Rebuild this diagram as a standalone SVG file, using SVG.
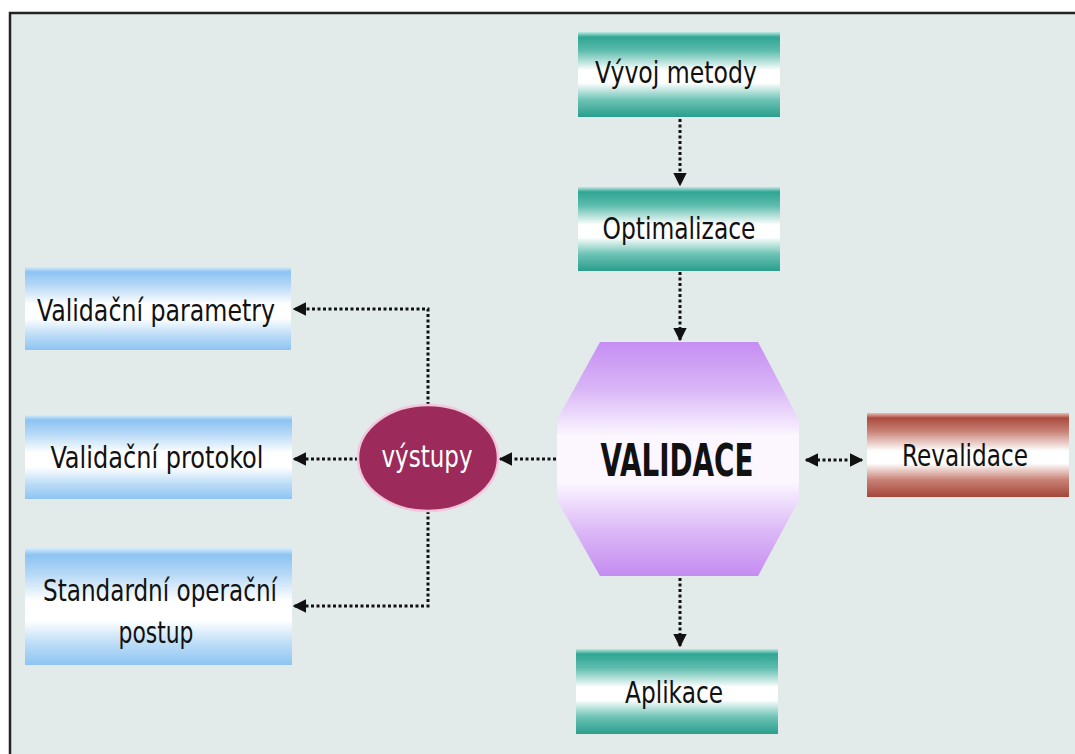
<svg xmlns="http://www.w3.org/2000/svg" width="1075" height="754" viewBox="0 0 1075 754">
  <defs>
    <linearGradient id="gTeal" x1="0" y1="0" x2="0" y2="1">
      <stop offset="0" stop-color="#bfe9e2"/>
      <stop offset="0.06" stop-color="#2fa593"/>
      <stop offset="0.22" stop-color="#5dbcad"/>
      <stop offset="0.45" stop-color="#ffffff"/>
      <stop offset="0.6" stop-color="#ffffff"/>
      <stop offset="0.8" stop-color="#6cc3b5"/>
      <stop offset="1" stop-color="#2a9d8c"/>
    </linearGradient>
    <linearGradient id="gBlue" x1="0" y1="0" x2="0" y2="1">
      <stop offset="0" stop-color="#d6ecfb"/>
      <stop offset="0.06" stop-color="#8cc3f2"/>
      <stop offset="0.22" stop-color="#b5d8f6"/>
      <stop offset="0.45" stop-color="#ffffff"/>
      <stop offset="0.62" stop-color="#ffffff"/>
      <stop offset="0.82" stop-color="#bcdcf7"/>
      <stop offset="1" stop-color="#8ec4f2"/>
    </linearGradient>
    <linearGradient id="gBrown" x1="0" y1="0" x2="0" y2="1">
      <stop offset="0" stop-color="#e8c0b4"/>
      <stop offset="0.06" stop-color="#a94b3e"/>
      <stop offset="0.22" stop-color="#c98276"/>
      <stop offset="0.45" stop-color="#ffffff"/>
      <stop offset="0.6" stop-color="#ffffff"/>
      <stop offset="0.8" stop-color="#c88074"/>
      <stop offset="1" stop-color="#a4463a"/>
    </linearGradient>
    <linearGradient id="gViolet" x1="0" y1="0" x2="0" y2="1">
      <stop offset="0" stop-color="#c58ef2"/>
      <stop offset="0.2" stop-color="#d9b5f6"/>
      <stop offset="0.4" stop-color="#fbf6ff"/>
      <stop offset="0.6" stop-color="#fbf6ff"/>
      <stop offset="0.8" stop-color="#dcbaf7"/>
      <stop offset="1" stop-color="#c48cf1"/>
    </linearGradient>
    <marker id="arr" viewBox="0 0 10 10" refX="9" refY="5" markerWidth="4.5" markerHeight="4.5" orient="auto-start-reverse" markerUnits="strokeWidth">
      <path d="M0,0 L10,5 L0,10 z" fill="#111"/>
    </marker>
    <style>
      .lbl { font-family: "DejaVu Sans Condensed", "DejaVu Sans", sans-serif; font-size: 30px; fill: #111; text-anchor: middle; }
      .big { font-family: "DejaVu Sans Condensed", "DejaVu Sans", sans-serif; font-size: 44px; font-weight: bold; fill: #111; text-anchor: middle; }
      .wht { font-family: "DejaVu Sans Condensed", "DejaVu Sans", sans-serif; font-size: 30px; fill: #ffffff; text-anchor: middle; }
      .con { fill: none; stroke: #111; stroke-width: 3; stroke-dasharray: 3 2.5; }
    </style>
  </defs>

  <rect x="0" y="0" width="1075" height="754" fill="#ffffff"/>
  <rect x="10" y="13" width="1070" height="750" fill="#e3eaea" stroke="#222" stroke-width="2.5"/>

  <g id="connectors">
    <line class="con" x1="680" y1="119" x2="680" y2="185" marker-end="url(#arr)"/>
    <line class="con" x1="680" y1="272" x2="680" y2="340" marker-end="url(#arr)"/>
    <line class="con" x1="680" y1="578" x2="680" y2="646" marker-end="url(#arr)"/>
    <line class="con" x1="806" y1="460" x2="862" y2="460" marker-start="url(#arr)" marker-end="url(#arr)"/>
    <line class="con" x1="556" y1="459" x2="500" y2="459" marker-end="url(#arr)"/>
    <line class="con" x1="358" y1="459" x2="294" y2="459" marker-end="url(#arr)"/>
    <polyline class="con" points="428,405 428,309 294,309" marker-end="url(#arr)"/>
    <polyline class="con" points="428,511 428,606 294,606" marker-end="url(#arr)"/>
  </g>

  <g id="vyvoj">
    <rect x="578" y="32" width="202" height="85" fill="url(#gTeal)"/>
    <text class="lbl" x="676" y="83" textLength="162" lengthAdjust="spacingAndGlyphs">Vývoj metody</text>
  </g>
  <g id="optimalizace">
    <rect x="578" y="187" width="202" height="84" fill="url(#gTeal)"/>
    <text class="lbl" x="679" y="239" textLength="153" lengthAdjust="spacingAndGlyphs">Optimalizace</text>
  </g>
  <g id="validace">
    <polygon points="600,342 758,342 799,420 799,500 758,576 600,576 557,500 557,420" fill="url(#gViolet)"/>
    <text class="big" x="677" y="476" textLength="153" lengthAdjust="spacingAndGlyphs">VALIDACE</text>
  </g>
  <g id="aplikace">
    <rect x="576" y="649" width="202" height="85" fill="url(#gTeal)"/>
    <text class="lbl" x="674" y="703" textLength="98" lengthAdjust="spacingAndGlyphs">Aplikace</text>
  </g>
  <g id="revalidace">
    <rect x="867" y="413" width="202" height="84" fill="url(#gBrown)"/>
    <text class="lbl" x="965" y="466" textLength="126" lengthAdjust="spacingAndGlyphs">Revalidace</text>
  </g>
  <g id="vystupy">
    <ellipse cx="428" cy="458" rx="70" ry="53" fill="#9c2a5a" stroke="#f2c6dc" stroke-width="2.5"/>
    <text class="wht" x="427" y="467" textLength="91" lengthAdjust="spacingAndGlyphs">výstupy</text>
  </g>
  <g id="parametry">
    <rect x="25" y="267" width="266" height="83" fill="url(#gBlue)"/>
    <text class="lbl" x="156" y="321" textLength="238" lengthAdjust="spacingAndGlyphs">Validační parametry</text>
  </g>
  <g id="protokol">
    <rect x="25" y="415" width="267" height="84" fill="url(#gBlue)"/>
    <text class="lbl" x="157" y="468" textLength="213" lengthAdjust="spacingAndGlyphs">Validační protokol</text>
  </g>
  <g id="sop">
    <rect x="25" y="548" width="267" height="117" fill="url(#gBlue)"/>
    <text class="lbl" x="160" y="601" textLength="234" lengthAdjust="spacingAndGlyphs">Standardní operační</text>
    <text class="lbl" x="156" y="643" textLength="75" lengthAdjust="spacingAndGlyphs">postup</text>
  </g>
</svg>
